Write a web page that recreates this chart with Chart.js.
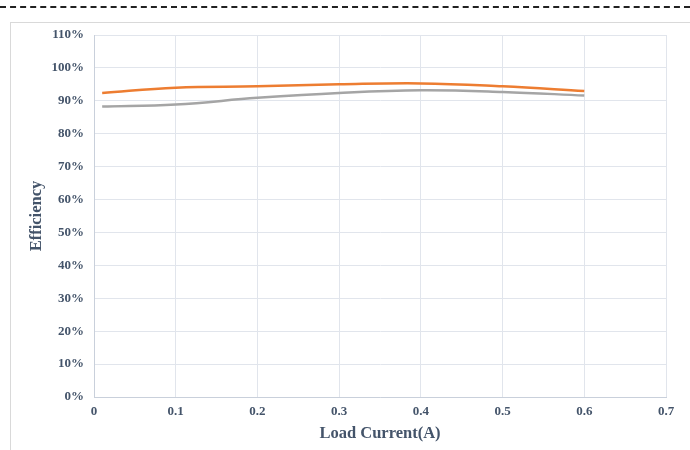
<!DOCTYPE html>
<html>
<head>
<meta charset="utf-8">
<script src="https://cdn.jsdelivr.net/npm/chart.js@4.4.1/dist/chart.umd.min.js"></script>
<style>
    html, body { margin: 0; padding: 0; background: #fff; }
    #wrap { position: relative; width: 690px; height: 450px; overflow: hidden; }
    #dash { position: absolute; left: 0; top: 6px; width: 690px; height: 0; border-top: 2px dashed #222; }
    #frame { position: absolute; left: 10px; top: 22px; width: 700px; height: 450px; border: 1px solid #d9d9d9; }
    canvas { position: absolute; left: 0; top: 0; }
</style>
</head>
<body>
<div id="wrap">
    <div id="dash"></div>
    <div id="frame"></div>
    <canvas id="effChart" width="690" height="450"></canvas>
</div>
<script>
    const loadCurrent = [0.01, 0.1, 0.2, 0.3, 0.4, 0.5, 0.6];
    const effOrange = [92.4, 94.0, 94.4, 95.0, 95.3, 94.4, 93.0];
    const effGray = [88.3, 88.9, 90.9, 92.4, 93.2, 92.7, 91.6];
    const xTicks = [0, 0.1, 0.2, 0.3, 0.4, 0.5, 0.6, 0.7];
    const yTicks = [0, 10, 20, 30, 40, 50, 60, 70, 80, 90, 100, 110];

    const textColor = '#44546a';
    const gridColor = '#e1e5ec';
    const tickFont = { family: '"Liberation Serif", "Times New Roman", serif', size: 13, weight: 'bold' };
    const titleFont = { family: '"Liberation Serif", "Times New Roman", serif', size: 16.5, weight: 'bold' };

    const toPoints = (vals) => vals.map((v, i) => ({ x: loadCurrent[i], y: v }));

    new Chart(document.getElementById('effChart'), {
        type: 'line',
        data: {
            datasets: [
                { label: 'Series A', data: toPoints(effOrange), borderColor: '#ed7d31', borderWidth: 2.5, tension: 0.4, pointRadius: 0, fill: false },
                { label: 'Series B', data: toPoints(effGray), borderColor: '#a5a5a5', borderWidth: 2.5, tension: 0.4, pointRadius: 0, fill: false },
            ],
        },
        options: {
            responsive: false,
            animation: false,
            layout: { padding: { top: 35, right: 24, left: 0, bottom: 0 } },
            plugins: { legend: { display: false }, tooltip: { enabled: false } },
            scales: {
                x: {
                    type: 'linear',
                    min: 0,
                    max: 0.7,
                    afterBuildTicks: (axis) => { axis.ticks = xTicks.map((v) => ({ value: v })); },
                    afterFit: (axis) => { axis.height = 53; },
                    grid: { color: gridColor, drawTicks: false },
                    border: { color: '#c9d0db' },
                    ticks: { color: textColor, font: tickFont, padding: 7, callback: (v) => String(v) },
                    title: { display: true, text: 'Load Current(A)', color: textColor, font: titleFont, padding: { top: 0, bottom: 6 } },
                },
                y: {
                    min: 0,
                    max: 110,
                    afterBuildTicks: (axis) => { axis.ticks = yTicks.map((v) => ({ value: v })); },
                    afterFit: (axis) => { axis.width = 94; },
                    grid: { color: gridColor, drawTicks: false },
                    border: { color: '#c9d0db' },
                    ticks: { color: textColor, font: tickFont, padding: 10, callback: (v) => v + '%' },
                    title: { display: true, text: 'Efficiency', color: textColor, font: titleFont, padding: { top: 27, bottom: 0 } },
                },
            },
        },
    });
</script>
</body>
</html>
